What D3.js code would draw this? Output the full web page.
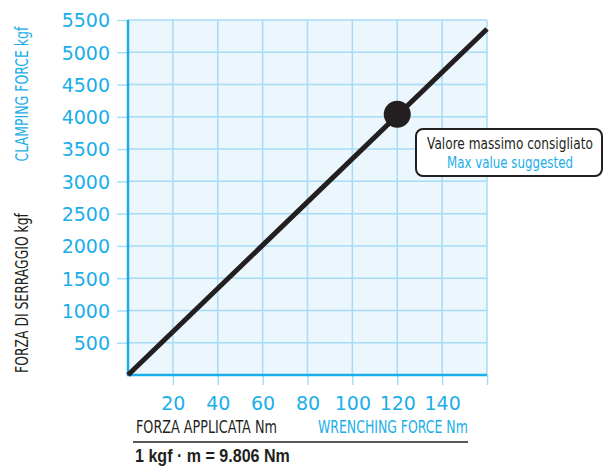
<!DOCTYPE html>
<html><head><meta charset="utf-8">
<script src="https://cdn.jsdelivr.net/npm/d3@7"></script>
<style>
html,body{margin:0;padding:0;background:#fff;}
svg{display:block;}
</style></head>
<body>
<script>
const wrenching = [0, 160];          // Nm
const clamping = [0, 5360];          // kgf
const maxPoint = {x: 120, y: 4040};  // recommended max
const yTicks = [500,1000,1500,2000,2500,3000,3500,4000,4500,5000,5500];
const xTicks = [20,40,60,80,100,120,140,160];
const xTickLabels = [20,40,60,80,100,120,140];

const W = 605, H = 467;
const blue = "#1aaee9", gridBlue = "#a6dcf6", fillBlue = "#ebf6fd", dark = "#231f20";
const condFont = "'Liberation Sans Narrow','DejaVu Sans Condensed','Roboto Condensed',sans-serif";
const svg = d3.select("body").append("svg").attr("width", W).attr("height", H);

const x = d3.scaleLinear().domain([0,160]).range([128,487]);
const y = d3.scaleLinear().domain([0,5500]).range([375,20]);

// plot background
svg.append("rect").attr("x", x(0)).attr("y", y(5500))
  .attr("width", x(160)-x(0)).attr("height", y(0)-y(5500)).attr("fill", fillBlue);

// grid
svg.append("g").selectAll("line").data(yTicks).join("line")
  .attr("x1", x(0)).attr("x2", x(160)).attr("y1", d=>y(d)).attr("y2", d=>y(d))
  .attr("stroke", gridBlue).attr("stroke-width", 1.5);
svg.append("g").selectAll("line").data(xTicks).join("line")
  .attr("y1", y(0)).attr("y2", y(5500)).attr("x1", d=>x(d)).attr("x2", d=>x(d))
  .attr("stroke", gridBlue).attr("stroke-width", 1.5);

// axes
const yAxis = d3.axisLeft(y).tickValues(yTicks).tickSize(11).tickPadding(7).tickFormat(d3.format("d"));
const gy = svg.append("g").attr("transform", `translate(${x(0)},0)`).call(yAxis);
gy.select(".domain").remove();
gy.selectAll(".tick line").attr("stroke", gridBlue).attr("stroke-width", 1.5);
gy.selectAll(".tick text").attr("fill", blue).attr("font-family", "DejaVu Sans").attr("font-size", 19).attr("dy", "0.36em");

const xAxis = d3.axisBottom(x).tickValues(xTicks).tickSize(10).tickPadding(7)
  .tickFormat(d => xTickLabels.includes(d) ? d : "");
const gx = svg.append("g").attr("transform", `translate(0,${y(0)})`).call(xAxis);
gx.select(".domain").remove();
gx.selectAll(".tick line").attr("stroke", gridBlue).attr("stroke-width", 1.5);
gx.selectAll(".tick text").attr("fill", blue).attr("font-family", "DejaVu Sans").attr("font-size", 19).attr("dy", "0.95em");

// main axis lines
svg.append("line").attr("x1", x(0)).attr("x2", x(0)).attr("y1", y(5500)).attr("y2", y(0)+1)
  .attr("stroke", blue).attr("stroke-width", 2.5);
svg.append("line").attr("x1", x(0)-1).attr("x2", x(160)).attr("y1", y(0)).attr("y2", y(0))
  .attr("stroke", blue).attr("stroke-width", 2.5);

// data line
svg.append("path").datum(wrenching.map((w,i)=>[w, clamping[i]]))
  .attr("d", d3.line().x(d=>x(d[0])).y(d=>y(d[1])))
  .attr("stroke", dark).attr("stroke-width", 5).attr("fill", "none");

svg.append("circle").attr("cx", x(maxPoint.x)).attr("cy", y(maxPoint.y)).attr("r", 13.5).attr("fill", dark);

// helper: text fitted horizontally to a target width via scale transform
function label(px, py, rot, anchor, size, fill, width, str, family, weight) {
  const g = svg.append("g");
  const t = g.append("text").attr("x", 0).attr("y", 0)
    .attr("text-anchor", anchor).attr("font-size", size).attr("fill", fill)
    .attr("font-family", family || condFont).attr("font-weight", weight || "normal").text(str);
  const nat = t.node().getComputedTextLength();
  const s = width / nat;
  g.attr("transform", `translate(${px},${py}) rotate(${rot}) scale(${s},1)`);
  return g;
}

// callout
svg.append("rect").attr("x", 416).attr("y", 129).attr("width", 186).attr("height", 47)
  .attr("rx", 7).attr("fill", "#fff").attr("stroke", dark).attr("stroke-width", 2);
label(510, 148.5, 0, "middle", 16, dark, 166, "Valore massimo consigliato");
label(510, 167.5, 0, "middle", 16, blue, 126, "Max value suggested");

// rotated axis titles
label(28, 94, -90, "middle", 18.5, blue, 135, "CLAMPING FORCE kgf");
label(28, 293, -90, "middle", 18.5, dark, 160, "FORZA DI SERRAGGIO kgf");

// bottom titles
label(136, 433, 0, "start", 18.5, dark, 141, "FORZA APPLICATA Nm");
label(318, 433, 0, "start", 18.5, blue, 150, "WRENCHING FORCE Nm");
svg.append("line").attr("x1", 133).attr("x2", 468).attr("y1", 442).attr("y2", 442)
  .attr("stroke", dark).attr("stroke-width", 1.5);
label(135, 462, 0, "start", 19, dark, 155, "1 kgf · m = 9.806 Nm", "'Liberation Sans',Arial,sans-serif", "bold");
</script>
</body></html>
